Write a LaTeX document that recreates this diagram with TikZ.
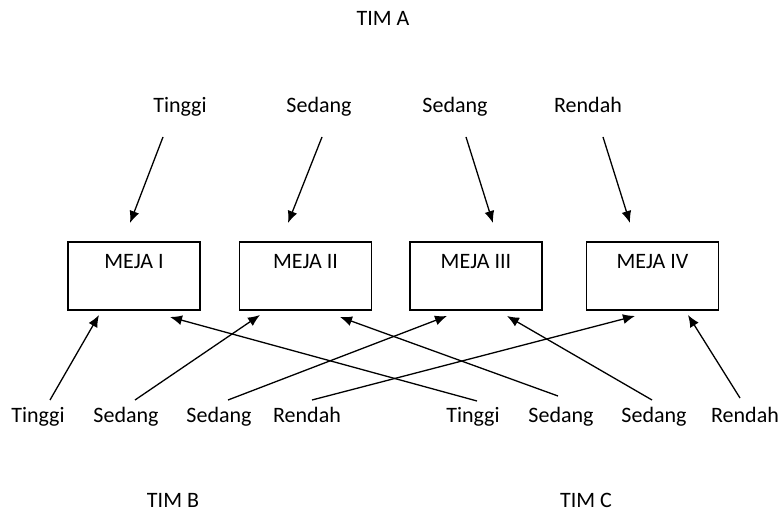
\documentclass[tikz,border=0pt]{standalone}
\usepackage{fontspec}
\setmainfont{Carlito}
\usetikzlibrary{arrows.meta}

\begin{document}
\begin{tikzpicture}[x=0.5pt, y=-0.5pt, font=\fontsize{11}{13}\selectfont,
  lbl/.style={text height=7.6pt, text depth=2.3pt},
  meja/.style={draw, line width=0.75pt, minimum width=66pt, minimum height=34pt,
    inner sep=0pt, text height=8pt, text depth=15.6pt},
  arr/.style={-{Latex[length=6pt, width=5pt]}, line width=0.65pt}]
\useasboundingbox (0,0) rectangle (781,512);

% team names
\node[lbl] (TA) at (383, 20) {TIM A};
\node[lbl] (TB) at (173, 502) {TIM B};
\node[lbl] (TC) at (586, 502) {TIM C};

% tables
\node[meja] (M1) at (134, 276)   {MEJA I};
\node[meja] (M2) at (305.5, 276) {MEJA II};
\node[meja] (M3) at (476, 276)   {MEJA III};
\node[meja] (M4) at (652.5, 276) {MEJA IV};

% team A, top row
\node[lbl] (A1) at (180, 107) {Tinggi};
\node[lbl] (A2) at (319, 107) {Sedang};
\node[lbl] (A3) at (455, 107) {Sedang};
\node[lbl] (A4) at (588, 107) {Rendah};

% team B and C, bottom row
\node[lbl] (B1) at (38, 417)  {Tinggi};
\node[lbl] (B2) at (126, 417) {Sedang};
\node[lbl] (B3) at (219, 417) {Sedang};
\node[lbl] (B4) at (307, 417) {Rendah};
\node[lbl] (C1) at (473, 417) {Tinggi};
\node[lbl] (C2) at (561, 417) {Sedang};
\node[lbl] (C3) at (654, 417) {Sedang};
\node[lbl] (C4) at (745, 417) {Rendah};

% arrow ends
\coordinate (A1s) at (163, 137); \coordinate (A1e) at (130, 223);
\coordinate (A2s) at (322, 137); \coordinate (A2e) at (288, 223);
\coordinate (A3s) at (466, 137); \coordinate (A3e) at (493, 223);
\coordinate (A4s) at (603, 137); \coordinate (A4e) at (630, 223);
\coordinate (B1s) at (50, 400);  \coordinate (B1e) at (99, 315);
\coordinate (B2s) at (135, 400); \coordinate (B2e) at (260, 315);
\coordinate (B3s) at (228, 400); \coordinate (B3e) at (447, 316);
\coordinate (B4s) at (312, 400); \coordinate (B4e) at (635, 316);
\coordinate (C1s) at (477, 401); \coordinate (C1e) at (170, 317);
\coordinate (C2s) at (558, 396); \coordinate (C2e) at (340, 317);
\coordinate (C3s) at (652, 400); \coordinate (C3e) at (507, 316);
\coordinate (C4s) at (740, 398); \coordinate (C4e) at (688, 315);
%

% team A
\draw[arr] (A1s) -- (A1e);
\draw[arr] (A2s) -- (A2e);
\draw[arr] (A3s) -- (A3e);
\draw[arr] (A4s) -- (A4e);

% team B
\draw[arr] (B1s) -- (B1e);
\draw[arr] (B2s) -- (B2e);
\draw[arr] (B3s) -- (B3e);
\draw[arr] (B4s) -- (B4e);

% team C
\draw[arr] (C1s) -- (C1e);
\draw[arr] (C2s) -- (C2e);
\draw[arr] (C3s) -- (C3e);
\draw[arr] (C4s) -- (C4e);
\end{tikzpicture}
\end{document}
